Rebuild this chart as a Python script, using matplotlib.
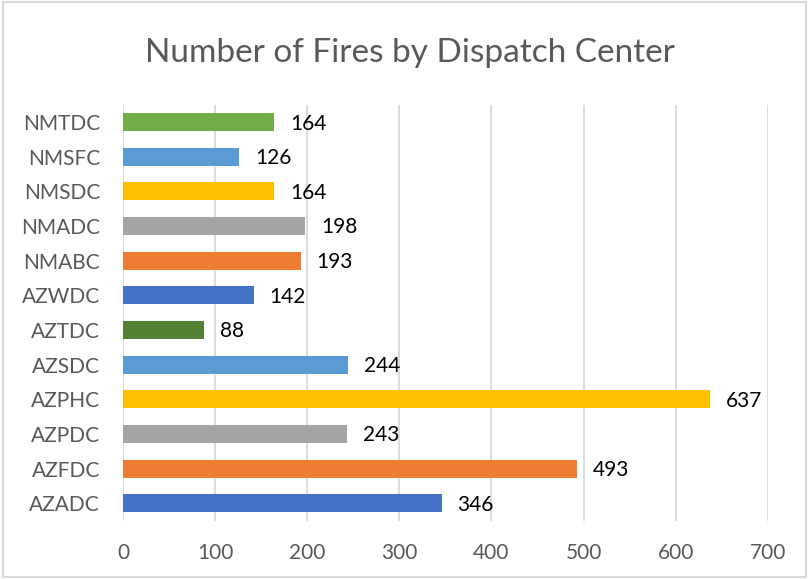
import matplotlib.pyplot as plt
from matplotlib.patches import Rectangle

centers = ['AZADC', 'AZFDC', 'AZPDC', 'AZPHC', 'AZSDC', 'AZTDC',
           'AZWDC', 'NMABC', 'NMADC', 'NMSDC', 'NMSFC', 'NMTDC']
fires = [346, 493, 243, 637, 244, 88, 142, 193, 198, 164, 126, 164]
bar_colors = ['#4472C4', '#ED7D31', '#A5A5A5', '#FFC000', '#5B9BD5', '#548235',
              '#4472C4', '#ED7D31', '#A5A5A5', '#FFC000', '#5B9BD5', '#70AD47']
x_ticks = [0, 100, 200, 300, 400, 500, 600, 700]

plt.rcParams['font.family'] = ['Lato', 'DejaVu Sans']

fig = plt.figure(figsize=(8.09, 5.79), dpi=100)
ax = fig.add_axes([0.152, 0.101, 0.797, 0.718])

pos = list(range(len(centers)))
ax.barh(pos, fires, height=0.52, color=bar_colors, zorder=3)

# value labels to the right of each bar
for i, v in enumerate(fires):
    ax.annotate(str(v), xy=(v, i), xytext=(11.5, -1), textcoords='offset points',
                va='center', ha='left', fontsize=15, color='black')

ax.set_xlim(0, 700)
ax.set_ylim(-0.5, len(centers) - 0.5)
ax.set_xticks(x_ticks)
ax.set_yticks(pos)
ax.set_yticklabels(centers)
ax.tick_params(axis='both', length=0, colors='#595959', labelsize=15)
ax.tick_params(axis='x', pad=16.5)
ax.tick_params(axis='y', pad=16.5)
ax.grid(axis='x', color='#D9D9D9', linewidth=1.3, zorder=0)
for s in ax.spines.values():
    s.set_visible(False)

fig.text(0.507, 0.893, 'Number of Fires by Dispatch Center', ha='center', va='baseline',
         fontsize=24, color='#595959')

fig.patches.append(Rectangle((0.004, 0.004), 0.992, 0.992, transform=fig.transFigure,
                             fill=False, edgecolor='#D9D9D9', linewidth=1.5))

fig.savefig('out.png', dpi=100)
